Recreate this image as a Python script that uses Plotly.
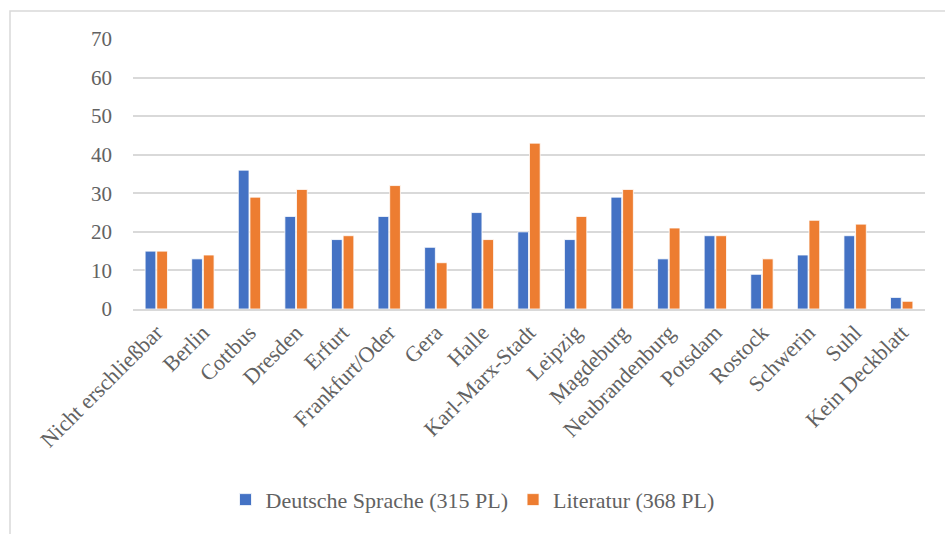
import plotly.graph_objects as go

# Bezirke (districts) and counts per subject
bezirke = [
    "Nicht erschließbar", "Berlin", "Cottbus", "Dresden", "Erfurt",
    "Frankfurt/Oder", "Gera", "Halle", "Karl-Marx-Stadt", "Leipzig",
    "Magdeburg", "Neubrandenburg", "Potsdam", "Rostock", "Schwerin",
    "Suhl", "Kein Deckblatt",
]
deutsche_sprache = [15, 13, 36, 24, 18, 24, 16, 25, 20, 18, 29, 13, 19, 9, 14, 19, 3]
literatur = [15, 14, 29, 31, 19, 32, 12, 18, 43, 24, 31, 21, 19, 13, 23, 22, 2]
serien_namen = ["Deutsche Sprache (315 PL)", "Literatur (368 PL)"]
y_ticks = [0, 10, 20, 30, 40, 50, 60, 70]

FONT = "Liberation Serif"
GRAY = "#626262"

fig = go.Figure()
fig.add_trace(go.Bar(
    x=bezirke, y=deutsche_sprache, name=serien_namen[0],
    marker=dict(color="#4472C4", line=dict(color="white", width=0.8)),
))
fig.add_trace(go.Bar(
    x=bezirke, y=literatur, name=serien_namen[1],
    marker=dict(color="#ED7D31", line=dict(color="white", width=0.8)),
))

fig.update_layout(
    width=945, height=534,
    margin=dict(l=133, r=20, t=39, b=225),
    paper_bgcolor="white", plot_bgcolor="white",
    barmode="group", bargap=0.5, bargroupgap=0.08,
    font=dict(family=FONT, color=GRAY, size=20),
    showlegend=True,
    legend=dict(
        orientation="h", xref="container", yref="container",
        x=0.5, xanchor="center", y=0.064, yanchor="middle",
        font=dict(family=FONT, size=22, color=GRAY),
        itemwidth=30, tracegroupgap=0,
    ),
    xaxis=dict(
        type="category", tickangle=-45, automargin=False,
        showgrid=False, showline=True, linecolor="#D9D9D9", linewidth=2,
        ticks="", tickfont=dict(family=FONT, size=22, color=GRAY),
    ),
    yaxis=dict(
        range=[0, 70], tickvals=y_ticks, automargin=False,
        showgrid=True, gridcolor="#D9D9D9", gridwidth=1.5,
        zeroline=False, showline=False, ticks="",
        ticklabelstandoff=20,
        tickfont=dict(family=FONT, size=21, color=GRAY),
    ),
)

# outer chart frame (left and top edges)
fig.add_shape(
    type="path", xref="paper", yref="paper",
    path="M -0.1553,-0.85 L -0.1553,1.104 L 1.03,1.104",
    line=dict(color="#D9D9D9", width=1.5),
)

fig.write_html("out.html")
